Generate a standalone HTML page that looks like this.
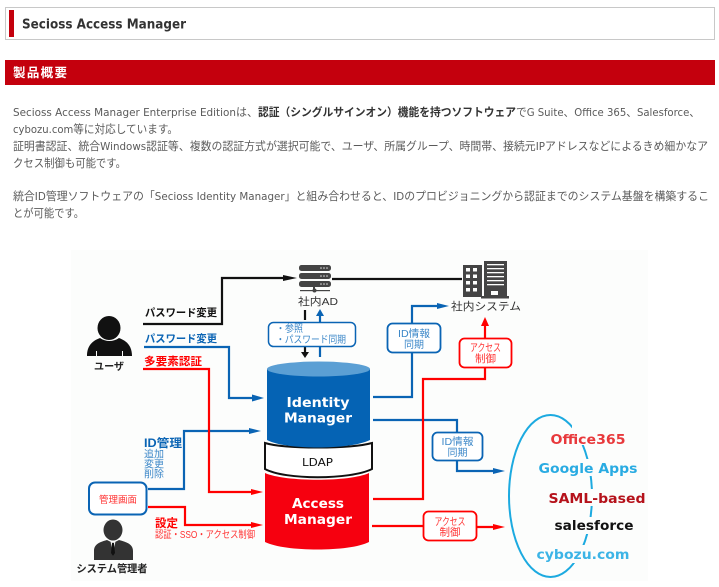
<!DOCTYPE html>
<html lang="ja"><head><meta charset="utf-8">
<style>
html,body{margin:0;padding:0;background:#fff;width:719px;height:587px;overflow:hidden}
svg{position:absolute;left:0;top:0;display:block}
text{font-family:"DejaVu Sans","Noto Sans CJK JP",sans-serif}
.p{font-size:11.2px;fill:#5a5a5a}
.p tspan.l{font-size:10.6px}
.j{font-family:"Liberation Sans","Noto Sans CJK JP",sans-serif}
.w{font-weight:bold;fill:#fff}
.soft{filter:blur(.3px)}
</style></head><body>
<svg width="719" height="587" viewBox="0 0 719 587" xmlns="http://www.w3.org/2000/svg">
<!-- header -->
<rect x="5.5" y="7.5" width="709" height="32" fill="#fff" stroke="#c8c8c8"/>
<rect x="9" y="10" width="5" height="27" fill="#c4000d"/>
<text x="22" y="28.500" font-size="13" font-weight="bold" fill="#333" textLength="164" lengthAdjust="spacingAndGlyphs">Secioss Access Manager</text>
<rect x="5" y="60" width="710" height="25" fill="#c4000d"/>
<text x="13" y="77" font-size="12.500" class="j w" textLength="54" style="filter:blur(.25px)">製品概要</text>
<!-- paragraph -->
<g class="soft">
<text class="p" x="13" y="116" textLength="245" lengthAdjust="spacingAndGlyphs"><tspan class="l">Secioss Access Manager Enterprise Edition</tspan>は、</text>
<text class="p" x="258" y="116" font-weight="bold" style="fill:#333" textLength="258" lengthAdjust="spacingAndGlyphs">認証（シングルサインオン）機能を持つソフトウェア</text>
<text class="p" x="516" y="116" textLength="184" lengthAdjust="spacingAndGlyphs">で<tspan class="l">G Suite</tspan>、<tspan class="l">Office 365</tspan>、<tspan class="l">Salesforce</tspan>、</text>
<text class="p" x="13" y="133" textLength="165" lengthAdjust="spacingAndGlyphs"><tspan class="l">cybozu.com</tspan>等に対応しています。</text>
<text class="p" x="13" y="150" textLength="695" lengthAdjust="spacingAndGlyphs">証明書認証、統合<tspan class="l">Windows</tspan>認証等、複数の認証方式が選択可能で、ユーザ、所属グループ、時間帯、接続元<tspan class="l">IP</tspan>アドレスなどによるきめ細かなア</text>
<text class="p" x="13" y="167" textLength="113" lengthAdjust="spacingAndGlyphs">クセス制御も可能です。</text>
<text class="p" x="13" y="200" textLength="696" lengthAdjust="spacingAndGlyphs">統合<tspan class="l">ID</tspan>管理ソフトウェアの「<tspan class="l">Secioss Identity Manager</tspan>」と組み合わせると、<tspan class="l">ID</tspan>のプロビジョニングから認証までのシステム基盤を構築するこ</text>
<text class="p" x="13" y="217" textLength="71" lengthAdjust="spacingAndGlyphs">とが可能です。</text>
</g>
<!-- diagram bg -->
<rect x="71" y="250" width="577" height="331" fill="#fcfdfc"/>
<g class="soft">
<g fill="none" stroke-width="2.200">
<path d="M143 324H222V278H285" stroke="#111"/>
<path d="M332 279H462" stroke="#111"/>
<path d="M305 310V320M305 346V353" stroke="#111"/>
<path d="M320 314V322M320 346V357" stroke="#0a64b4"/>
<path d="M144 347H229V398H254" stroke="#0a64b4"/>
<path d="M148 489H184V431H251" stroke="#0a64b4"/>
<path d="M373 397H412V306H439" stroke="#0a64b4"/>
<path d="M373 420H457V432M457 461V471H495" stroke="#0a64b4"/>
<path d="M143 369H209V492H253" stroke="#f00"/>
<path d="M148 507H185V525H253" stroke="#f00"/>
<path d="M373 499H423V379H485V324" stroke="#f00"/>
<path d="M372 526H423M477 527H495" stroke="#f00"/>
</g>
<!-- arrowheads -->
<path d="M283 275L297 278L283 281Z" fill="#111"/>
<path d="M301 352H309L305 358Z" fill="#111"/>
<path d="M316 316L320 309L324 316Z" fill="#0a64b4"/>
<path d="M252 394.500L264 398L252 401.500Z" fill="#0a64b4"/>
<path d="M249 428L261 431L249 434Z" fill="#0a64b4"/>
<path d="M437 303L449 306L437 309Z" fill="#0a64b4"/>
<path d="M493 468L505 471L493 474Z" fill="#0a64b4"/>
<path d="M251 489L263 492L251 495Z" fill="#f00"/>
<path d="M251 522L263 525L251 528Z" fill="#f00"/>
<path d="M481 326L485 317L489 326Z" fill="#f00"/>
<path d="M493 524L505 527L493 530Z" fill="#f00"/>
<!-- server -->
<g fill="#444">
<rect x="299" y="265" width="32" height="6" rx="2.500"/><rect x="299" y="273" width="32" height="6" rx="2.500"/><rect x="299" y="281" width="32" height="6" rx="2.500"/>
<rect x="313" y="287" width="2" height="3"/><circle cx="314.500" cy="290.500" r="2"/><rect x="300" y="290" width="30" height="1.200"/>
</g>
<g fill="#ddd"><circle cx="321" cy="268" r=".8"/><circle cx="324" cy="268" r=".8"/><circle cx="327" cy="268" r=".8"/><circle cx="321" cy="276" r=".8"/><circle cx="324" cy="276" r=".8"/><circle cx="327" cy="276" r=".8"/><circle cx="321" cy="284" r=".8"/><circle cx="324" cy="284" r=".8"/><circle cx="327" cy="284" r=".8"/></g>
<text x="318" y="305" text-anchor="middle" font-size="10.500" class="j" fill="#333" textLength="40" lengthAdjust="spacingAndGlyphs">社内AD</text>
<!-- building -->
<g fill="#444"><rect x="463" y="265" width="19" height="32"/><rect x="484" y="261" width="23" height="35"/><rect x="481" y="296" width="28" height="2.500"/></g>
<g fill="#fcfdfc">
<rect x="466" y="268" width="4" height="3.500"/><rect x="473" y="268" width="4" height="3.500"/><rect x="466" y="274.500" width="4" height="3.500"/><rect x="473" y="274.500" width="4" height="3.500"/><rect x="466" y="281" width="4" height="3.500"/><rect x="473" y="281" width="4" height="3.500"/><rect x="466" y="288" width="4" height="3.500"/><rect x="473" y="288" width="4" height="3.500"/>
<rect x="487" y="264" width="17" height="1.300"/><rect x="487" y="268" width="17" height="1.300"/><rect x="487" y="272" width="17" height="1.300"/><rect x="487" y="276" width="17" height="1.300"/><rect x="487" y="280" width="17" height="1.300"/><rect x="487" y="284" width="17" height="1.300"/><rect x="491" y="291" width="7" height="4"/>
</g>
<text x="486" y="310" text-anchor="middle" font-size="11" class="j" fill="#333" textLength="70" lengthAdjust="spacingAndGlyphs">社内システム</text>
<!-- user -->
<ellipse cx="109" cy="328" rx="11.500" ry="12" fill="#111"/>
<path d="M87 356C87 346 92 341 100 338C106 342 113 342 119 338C127 341 132 346 132 356H123V351H122V356H97V351H96V356Z" fill="#111"/>
<text x="109" y="370" text-anchor="middle" font-size="10" font-weight="bold" class="j" fill="#222" textLength="30" lengthAdjust="spacingAndGlyphs">ユーザ</text>
<!-- labels left -->
<text x="145" y="316" font-size="10.500" font-weight="bold" class="j" fill="#111" textLength="72" lengthAdjust="spacingAndGlyphs">パスワード変更</text>
<text x="145" y="342" font-size="10.500" font-weight="bold" class="j" fill="#0a64b4" textLength="72" lengthAdjust="spacingAndGlyphs">パスワード変更</text>
<text x="144" y="365" font-size="11" font-weight="bold" class="j" fill="#f00" textLength="58" lengthAdjust="spacingAndGlyphs">多要素認証</text>
<!-- ref box -->
<rect x="268.500" y="322.500" width="87" height="24" rx="5" fill="#fff" stroke="#0a64b4" stroke-width="1.500"/>
<text x="276" y="332" font-size="10" class="j" fill="#3b87c8" textLength="27" lengthAdjust="spacingAndGlyphs">・参照</text>
<text x="276" y="343" font-size="10" class="j" fill="#3b87c8" textLength="70" lengthAdjust="spacingAndGlyphs">・パスワード同期</text>
<!-- cylinders -->
<path d="M265 443C285 449 350 449 372 443V469C350 480 285 480 265 469Z" fill="#fff" stroke="#111" stroke-width="2"/>
<path d="M267 369V440C285 450 350 450 370 440V369Z" fill="#0563b4"/>
<ellipse cx="318.500" cy="369" rx="51.500" ry="7.500" fill="#5b9fd4"/>
<path d="M265 473C285 482 350 482 369 473V542C350 552 285 552 265 542Z" fill="#f6000f"/>
<text x="318" y="407" text-anchor="middle" font-size="13.500" class="w" textLength="63" lengthAdjust="spacingAndGlyphs">Identity</text>
<text x="318" y="422.500" text-anchor="middle" font-size="13.500" class="w" textLength="68" lengthAdjust="spacingAndGlyphs">Manager</text>
<text x="317.500" y="466" text-anchor="middle" font-size="11" fill="#111" textLength="31" lengthAdjust="spacingAndGlyphs">LDAP</text>
<text x="318" y="508" text-anchor="middle" font-size="13.500" class="w" textLength="52" lengthAdjust="spacingAndGlyphs">Access</text>
<text x="318" y="524" text-anchor="middle" font-size="13.500" class="w" textLength="68" lengthAdjust="spacingAndGlyphs">Manager</text>
<!-- boxes -->
<rect x="387.500" y="323.500" width="53" height="29" rx="5" fill="#fff" stroke="#0a64b4" stroke-width="1.800"/>
<text x="414" y="337" text-anchor="middle" font-size="10" class="j" fill="#3b87c8" textLength="32" lengthAdjust="spacingAndGlyphs">ID情報</text>
<text x="414" y="348" text-anchor="middle" font-size="10" class="j" fill="#3b87c8">同期</text>
<rect x="432.500" y="432.500" width="50" height="28" rx="5" fill="#fff" stroke="#0a64b4" stroke-width="1.800"/>
<text x="457.500" y="445" text-anchor="middle" font-size="10" class="j" fill="#3b87c8" textLength="32" lengthAdjust="spacingAndGlyphs">ID情報</text>
<text x="457.500" y="456" text-anchor="middle" font-size="10" class="j" fill="#3b87c8">同期</text>
<rect x="459.500" y="338.500" width="52" height="29" rx="5" fill="#fff" stroke="#f00" stroke-width="1.800"/>
<text x="485.500" y="351" text-anchor="middle" font-size="10.500" class="j" fill="#f33" textLength="31" lengthAdjust="spacingAndGlyphs">アクセス</text>
<text x="485.500" y="362" text-anchor="middle" font-size="10.500" class="j" fill="#f33">制御</text>
<rect x="423.500" y="511.500" width="53" height="29" rx="5" fill="#fff" stroke="#f00" stroke-width="1.800"/>
<text x="450" y="525" text-anchor="middle" font-size="10.500" class="j" fill="#f33" textLength="31" lengthAdjust="spacingAndGlyphs">アクセス</text>
<text x="450" y="535.500" text-anchor="middle" font-size="10.500" class="j" fill="#f33">制御</text>
<!-- admin panel -->
<rect x="89" y="482.500" width="57.500" height="32" rx="6" fill="#fff" stroke="#0a64b4" stroke-width="2"/>
<text x="118" y="503" text-anchor="middle" font-size="9.500" class="j" fill="#f33" textLength="38" lengthAdjust="spacingAndGlyphs">管理画面</text>
<!-- id mgmt labels -->
<text x="144" y="447" font-size="11.500" font-weight="bold" class="j" fill="#0a64b4" textLength="38" lengthAdjust="spacingAndGlyphs">ID管理</text>
<text x="144" y="457.500" font-size="10" class="j" fill="#3b87c8">追加</text>
<text x="144" y="467.500" font-size="10" class="j" fill="#3b87c8">変更</text>
<text x="144" y="477.500" font-size="10" class="j" fill="#3b87c8">削除</text>
<text x="155" y="527" font-size="11.500" font-weight="bold" class="j" fill="#f00" textLength="23" lengthAdjust="spacingAndGlyphs">設定</text>
<text x="155" y="538" font-size="10" class="j" fill="#f33" textLength="100" lengthAdjust="spacingAndGlyphs">認証・SSO・アクセス制御</text>
<!-- admin -->
<ellipse cx="113" cy="530" rx="9.500" ry="10.500" fill="#333"/>
<path d="M94 560V551C94 544 100 542 107 540L113 543L119 540C126 542 133 544 133 551V560Z" fill="#333"/>
<path d="M110.500 541L113 544L115.500 541L113 556Z" fill="#fcfdfc"/><path d="M112 543H114L115 553L113 556L111 553Z" fill="#111"/>
<text x="112" y="572" text-anchor="middle" font-size="10.500" font-weight="bold" class="j" fill="#222" textLength="71" lengthAdjust="spacingAndGlyphs">システム管理者</text>
<!-- ellipse group -->
<ellipse cx="550.500" cy="496" rx="41.500" ry="81" fill="none" stroke="#1caae0" stroke-width="2"/>
<g fill="#fcfdfc">
<rect x="548" y="430" width="80" height="15"/><rect x="538" y="459" width="102" height="17"/><rect x="546" y="489" width="102" height="17"/><rect x="552" y="517" width="84" height="17"/><rect x="535" y="545" width="100" height="18"/>
<path d="M572 416H600V430H572Z"/><path d="M574 564H600V580H574Z"/>
</g>
<g font-size="13.500" font-weight="bold">
<text x="588" y="444" text-anchor="middle" fill="#e8393c" textLength="75" lengthAdjust="spacingAndGlyphs">Office365</text>
<text x="588" y="473" text-anchor="middle" fill="#29abe2" textLength="99" lengthAdjust="spacingAndGlyphs">Google Apps</text>
<text x="597" y="503" text-anchor="middle" fill="#b5121b" textLength="97" lengthAdjust="spacingAndGlyphs">SAML-based</text>
<text x="594" y="530" text-anchor="middle" fill="#111" textLength="79" lengthAdjust="spacingAndGlyphs">salesforce</text>
<text x="583" y="559" text-anchor="middle" fill="#3cb4e6" textLength="93" lengthAdjust="spacingAndGlyphs">cybozu.com</text>
</g>
</g>
</svg>
</body></html>
